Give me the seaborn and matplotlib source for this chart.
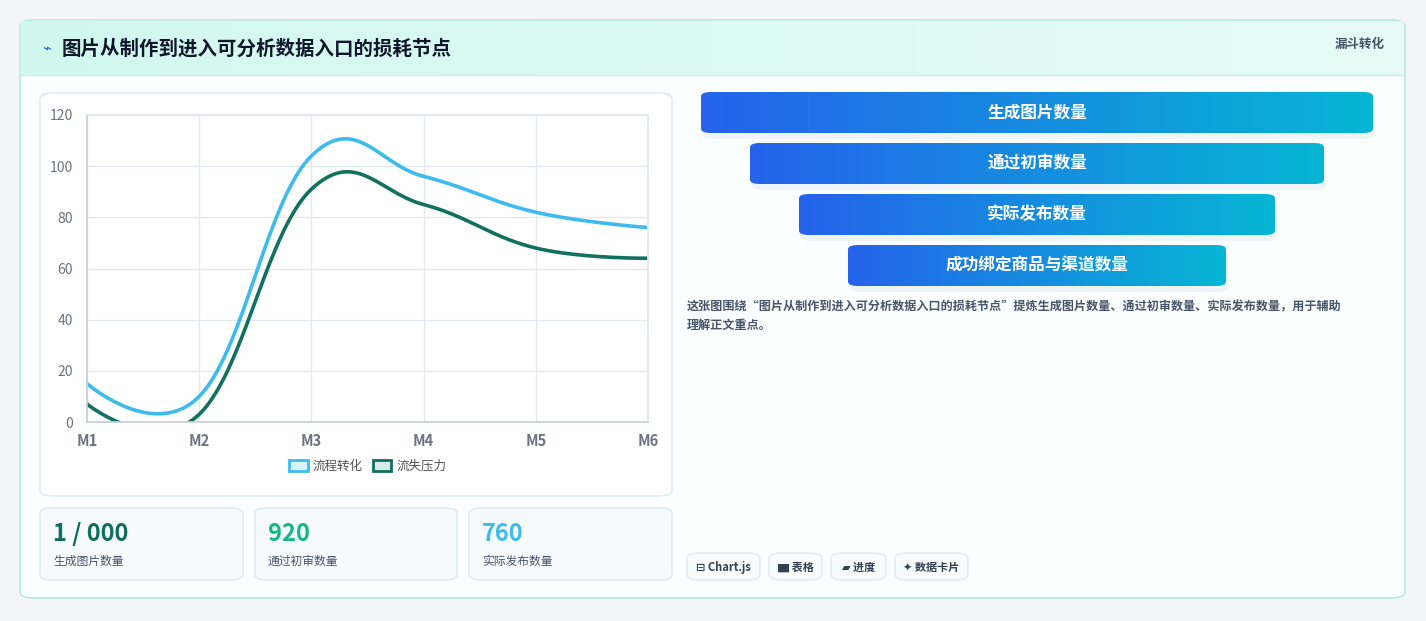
import numpy as np
import pandas as pd
import matplotlib
matplotlib.use("Agg")
import matplotlib.pyplot as plt
import seaborn as sns
from matplotlib.patches import FancyBboxPatch, Patch

sns.set_theme(style="white")
plt.rcParams['font.family'] = ['Noto Sans CJK SC', 'DejaVu Sans']

# ---- data ----
months = ["M1", "M2", "M3", "M4", "M5", "M6"]
flow = [15, 10, 104, 96, 82, 76]
loss = [7, 3, 91, 85, 68, 64]
series_names = ["流程转化", "流失压力"]
funnel_labels = ["生成图片数量", "通过初审数量", "实际发布数量", "成功绑定商品与渠道数量"]
kpi_values = ["1 / 000", "920", "760"]
kpi_labels = ["生成图片数量", "通过初审数量", "实际发布数量"]
chips = ["⊟ Chart.js", "▆ 表格", "▰ 进度", "✦ 数据卡片"]
title = "图片从制作到进入可分析数据入口的损耗节点"
desc = "这张图围绕“图片从制作到进入可分析数据入口的损耗节点”提炼生成图片数量、通过初审数量、实际发布数量，用于辅助\n理解正文重点。"

W, H = 1426, 621
fig = plt.figure(figsize=(W/100, H/100), dpi=100)
fig.patch.set_facecolor("#f3f5f8")

def rect(x0, y0, x1, y1, fc, ec="none", r=12, lw=1, z=0, ax=None):
    p = FancyBboxPatch((x0/W, 1-y1/H), (x1-x0)/W, (y1-y0)/H,
                       boxstyle=f"round,pad=0,rounding_size={r/W}",
                       transform=fig.transFigure, fc=fc, ec=ec, lw=lw, zorder=z)
    fig.add_artist(p)
    return p

def txt(x, y, s, **kw):
    fig.text(x/W, 1-y/H, s, **kw)

# outer card
rect(20, 20, 1405, 598, "#fbfefe", ec="#a8e6dc", r=14, z=0)
# header band
bg = fig.add_axes([21/W, 1-75/H, 1383/W, 54/H], zorder=0.5)
grad = np.linspace(0, 1, 256)[None, :]
from matplotlib.colors import LinearSegmentedColormap
cm_h = LinearSegmentedColormap.from_list("h", ["#d2f8ee", "#e6fbf6"])
bg.imshow(grad, cmap=cm_h, aspect="auto", extent=[0, 1, 0, 1])
bg.axis("off")
fig.add_artist(plt.Line2D([21/W, 1404/W], [1-75/H, 1-75/H], color="#c6eee6", lw=1, transform=fig.transFigure))
txt(42, 49, "⌁", fontsize=11, color="#2563eb", va="center", zorder=2)
txt(62, 49, title, fontsize=14, fontweight="bold", color="#0f172a", va="center", zorder=2)
txt(1385, 44, "漏斗转化", fontsize=9, fontweight="bold", color="#475569", va="center", ha="right", zorder=2)

# chart panel
rect(40, 93, 672, 496, "white", ec="#d6ecea", r=14, z=1)

ax = fig.add_axes([87/W, 1-422/H, (648-87)/W, (422-115)/H], zorder=2)
ax.set_facecolor("none")

def smooth(y, t=0.4, n=40):
    y = np.asarray(y, float); x = np.arange(len(y), dtype=float)
    xs, ys = [], []
    for i in range(len(y)-1):
        p0 = np.array([x[i], y[i]]); p3 = np.array([x[i+1], y[i+1]])
        pm = np.array([x[i-1], y[i-1]]) if i > 0 else p0
        pn = np.array([x[i+2], y[i+2]]) if i+2 < len(y) else p3
        c1 = p0 + t*(p3 - pm)/2 if i > 0 else p0
        c2 = p3 - t*(pn - p0)/2 if i+2 < len(y) else p3
        s = np.linspace(0, 1, n)[:, None]
        pts = (1-s)**3*p0 + 3*(1-s)**2*s*c1 + 3*(1-s)*s**2*c2 + s**3*p3
        xs.extend(pts[:, 0]); ys.extend(pts[:, 1])
    return np.array(xs), np.array(ys)

colors = ["#3dbbee", "#11705f"]
for vals, name, c in zip([flow, loss], series_names, colors):
    sx, sy = smooth(vals)
    df = pd.DataFrame({"x": sx, "y": sy})
    sns.lineplot(data=df, x="x", y="y", ax=ax, color=c, lw=2.6, sort=False, estimator=None)

ax.set_xlim(0, 5); ax.set_ylim(0, 120)
ax.set_xticks(range(6)); ax.set_xticklabels(months)
ax.set_yticks(range(0, 121, 20))
ax.grid(True, color="#e3e7ee", lw=0.9)
for s in ax.spines.values():
    s.set_color("#e3e7ee")
ax.spines["bottom"].set_color("#c9ced6"); ax.spines["left"].set_color("#c9ced6")
ax.tick_params(axis="x", colors="#6b7280", labelsize=10.5, length=4, pad=4)
ax.tick_params(axis="y", colors="#6b7280", labelsize=10, length=0, pad=10)
for l in ax.get_xticklabels():
    l.set_fontweight("bold")
ax.set_xlabel(""); ax.set_ylabel("")
handles = [Patch(fc="#daf3fc", ec=colors[0], lw=2), Patch(fc="#d6ebe6", ec=colors[1], lw=2)]
ax.legend(handles, series_names, loc="center", bbox_to_anchor=(0.5, -0.145), ncol=2, frameon=False,
          fontsize=9, handlelength=1.5, handleheight=1.0, columnspacing=0.8, handletextpad=0.4,
          labelcolor="#555")

# KPI cards
kx = [(40, 243), (255, 457), (469, 672)]
kcol = ["#0f6e5e", "#12b886", "#3dbbee"]
for (x0, x1), v, lab, c in zip(kx, kpi_values, kpi_labels, kcol):
    rect(x0, 508, x1, 580, "#f7fafd", ec="#d6e9ef", r=12, z=1)
    txt(x0+13, 534, v, fontsize=17, fontweight="bold", color=c, va="center", zorder=3)
    txt(x0+13, 561, lab, fontsize=8.5, color="#475569", va="center", zorder=3)

# funnel bars
cm_f = LinearSegmentedColormap.from_list("f", ["#2563eb", "#06b6d4"])
bars = [(701, 1373, 92, 133), (750, 1324, 143, 184), (799, 1275, 194, 235), (848, 1226, 245, 286)]
for (x0, x1, y0, y1), lab in zip(bars, funnel_labels):
    rect(x0+2, y0+6, x1+2, y1+6, (0.4, 0.5, 0.6, 0.08), r=10, z=1)
    bax = fig.add_axes([x0/W, 1-y1/H, (x1-x0)/W, (y1-y0)/H], zorder=2)
    bax.axis("off")
    im = bax.imshow(grad, cmap=cm_f, aspect="auto", extent=[0, 1, 0, 1])
    clip = FancyBboxPatch((0, 0), 1, 1, boxstyle=f"round,pad=0,rounding_size=0.02",
                          transform=bax.transAxes, fc="none", ec="none",
                          mutation_aspect=(x1-x0)/(y1-y0)*0.5)
    clip = FancyBboxPatch((x0/W, 1-y1/H), (x1-x0)/W, (y1-y0)/H,
                          boxstyle=f"round,pad=0,rounding_size={10/W}",
                          transform=fig.transFigure, fc="none", ec="none")
    fig.add_artist(clip)
    im.set_clip_path(clip)
    bax.text(0.5, 0.5, lab, transform=bax.transAxes, ha="center", va="center",
             fontsize=12, fontweight="bold", color="white")

txt(687, 316, desc, fontsize=8.7, fontweight="bold", color="#475569", va="center", linespacing=1.6)

# chips
chip_x = [(687, 760), (769, 822), (831, 886), (895, 968)]
for (x0, x1), c in zip(chip_x, chips):
    rect(x0, 553, x1, 580, "#f8fafc", ec="#e2e8f0", r=13, z=1)
    txt((x0+x1)/2, 567, c, fontsize=8, fontweight="bold", color="#334155", ha="center", va="center",
        zorder=3, family=['Noto Sans CJK SC', 'DejaVu Sans'])

fig.savefig("out.png", dpi=100, facecolor=fig.get_facecolor())
